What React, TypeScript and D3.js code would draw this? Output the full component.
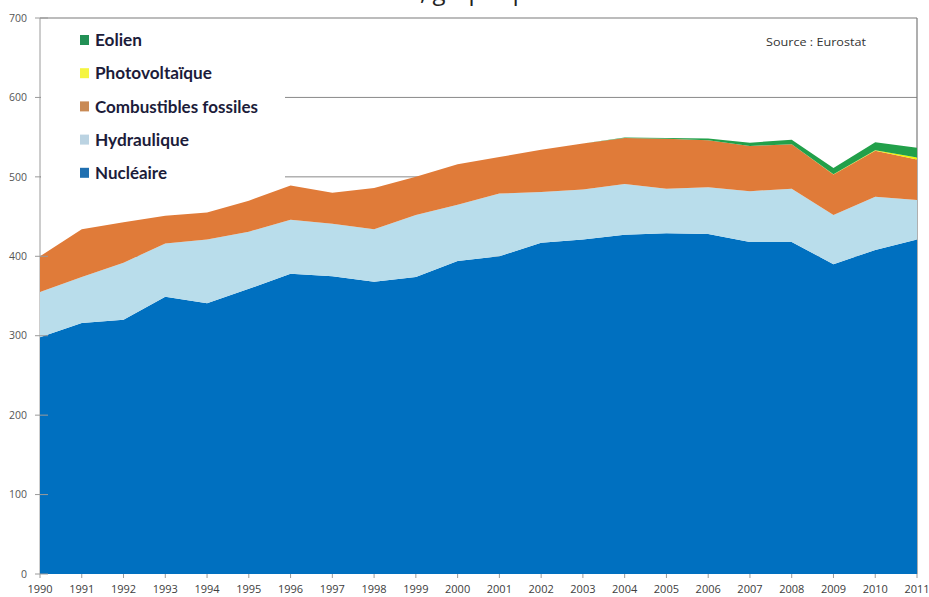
import React from "react";
import * as d3 from "d3";

const years = [1990,1991,1992,1993,1994,1995,1996,1997,1998,1999,2000,2001,2002,2003,2004,2005,2006,2007,2008,2009,2010,2011];
const nucleaire = [298,316,320,349,341,359,378,375,368,374,394,400,417,421,427,429,428,418,418,390,408,421];
const hydraulique = [57,58,72,67,80,72,68,66,66,78,71,79,64,63,64,56,59,64,67,62,67,50];
const fossiles = [45,60,51,35,34,39,43,39,52,48,51,46,53,58,58,63,59,57,56,51,58,51];
const photovoltaique = [0,0,0,0,0,0,0,0,0,0,0,0,0,0,0,0,0,0,0.1,0.2,0.6,2.4];
const eolien = [0,0,0,0,0,0,0,0,0,0,0,0,0,0,0.6,1,2.2,4,5.7,7.9,9.9,12.2];
const yTicks = [0,100,200,300,400,500,600,700];
const legendLabels = ["Eolien","Photovoltaïque","Combustibles fossiles","Hydraulique","Nucléaire"];
const legendKeys = ["eolien","pv","fossiles","hydro","nucleaire"];
const legendWidths = [47,117,163,94,72];
const sourceText = "Source : Eurostat";
const titleStart = "Production d'électricité en France";
const titleEnd = ", graphique";

const colors: Record<string,string> = {
  nucleaire: "#0070C0",
  hydro: "#B9DDEB",
  fossiles: "#E07B39",
  pv: "#F2F200",
  eolien: "#22A04A",
};
const legendColors: Record<string,string> = {
  nucleaire: "#1F6FB0",
  hydro: "#BBD3E2",
  fossiles: "#C98A55",
  pv: "#F5F540",
  eolien: "#229055",
};

export default function App() {
  const W = 929, H = 597;
  const x0 = 40, x1 = 917, yTop = 18, yBot = 574;
  const x = d3.scaleLinear().domain([1990, 2011]).range([x0, x1]);
  const y = d3.scaleLinear().domain([0, 700]).range([yBot, yTop]);

  const rows = years.map((yr, i) => ({
    year: yr,
    nucleaire: nucleaire[i],
    hydro: hydraulique[i],
    fossiles: fossiles[i],
    pv: photovoltaique[i],
    eolien: eolien[i],
  }));
  const keys = ["nucleaire","hydro","fossiles","pv","eolien"];
  const stack = d3.stack<any>().keys(keys)(rows);
  const area = d3.area<any>()
    .x((d) => x(d.data.year))
    .y0((d) => y(d[0]))
    .y1((d) => y(d[1]))
    .curve(d3.curveLinear);

  const font = "'Open Sans', 'Liberation Sans', sans-serif";

  return (
    <div style={{ position: "absolute", left: 0, top: 0 }}>
      <svg width={W} height={H} style={{ display: "block", background: "#fff" }}>
        <text x={420} y={0} textAnchor="end" fontFamily={font} fontSize={24} fill="#222">{titleStart}</text>
        <text x={420} y={0} textAnchor="start" fontFamily={font} fontSize={24} fill="#222">{titleEnd}</text>

        {/* gridlines */}
        {yTicks.filter((t) => t > 0 && t < 700).map((t) => (
          <line key={"g" + t} x1={x0} x2={x1} y1={y(t)} y2={y(t)} stroke="#8a8a8a" strokeWidth={1} />
        ))}
        {/* frame */}
        <line x1={x0} x2={x1} y1={y(700)} y2={y(700)} stroke="#7a7a7a" strokeWidth={1.2} />
        <line x1={x1} x2={x1} y1={y(700)} y2={yBot} stroke="#7a7a7a" strokeWidth={1.2} />
        <line x1={x0} x2={x0} y1={y(700)} y2={yBot} stroke="#9a9a9a" strokeWidth={1} />

        {/* areas */}
        {stack.map((s) => (
          <path key={s.key} d={area(s as any) || ""} fill={colors[s.key]} stroke="none" />
        ))}

        {/* y ticks */}
        {yTicks.map((t) => (
          <g key={"y" + t}>
            <line x1={35} x2={48} y1={y(t)} y2={y(t)} stroke="#9a9a9a" strokeWidth={1} />
            <text x={27} y={y(t)} dy="0.35em" textAnchor="end" fontFamily={font} fontSize={10.5} fill="#555">{t}</text>
          </g>
        ))}
        {/* x ticks */}
        {years.map((yr) => (
          <g key={"x" + yr}>
            <line x1={x(yr)} x2={x(yr)} y1={yBot} y2={yBot + 4} stroke="#9a9a9a" strokeWidth={1} />
            <text x={x(yr)} y={593} textAnchor="middle" fontFamily={font} fontSize={11} fill="#404040">{yr}</text>
          </g>
        ))}

        {/* legend */}
        <rect x={41} y={21} width={244} height={164} fill="#fff" />
        {legendLabels.map((lab, i) => {
          const cy = 40 + i * 33.2;
          return (
            <g key={lab}>
              <rect x={80} y={cy - 5} width={9} height={10} fill={legendColors[legendKeys[i]]} />
              <text x={95} y={cy} dy="0.36em" fontFamily="Lato, 'Open Sans', sans-serif" fontWeight={700} fontSize={17}
                fill="#1c1c3a" textLength={legendWidths[i]} lengthAdjust="spacingAndGlyphs">{lab}</text>
            </g>
          );
        })}

        <text x={766} y={46} fontFamily={font} fontSize={11.5} fill="#333" textLength={100} lengthAdjust="spacingAndGlyphs">{sourceText}</text>
      </svg>
    </div>
  );
}
